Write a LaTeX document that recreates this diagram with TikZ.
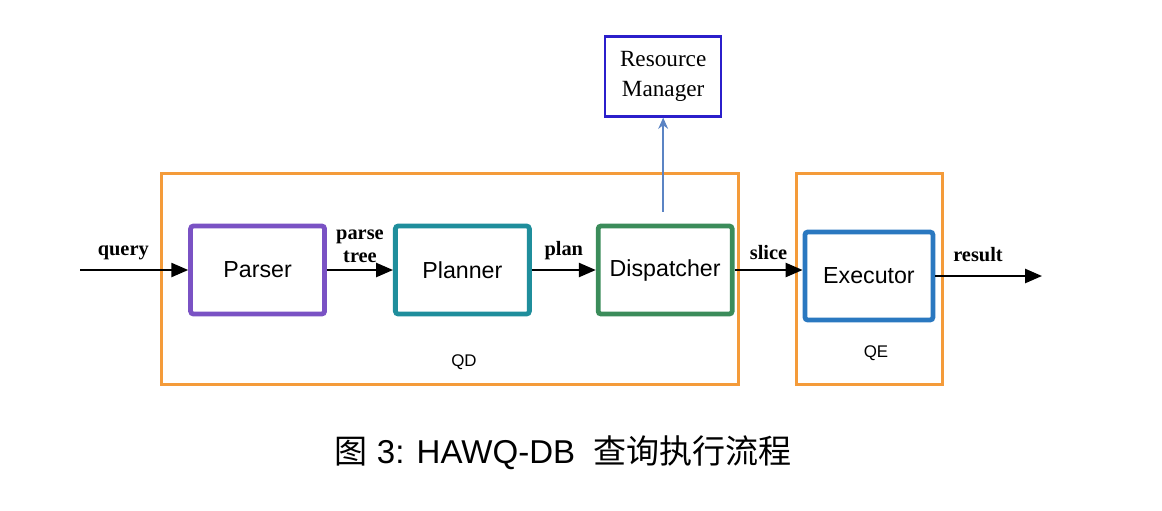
\documentclass[tikz,border=0pt]{standalone}
\usepackage{fontspec}
\setmainfont{Liberation Serif}
\setsansfont{Liberation Sans}
\newfontfamily\cjk{Noto Sans CJK SC}
\usetikzlibrary{positioning,arrows.meta}

\definecolor{qorange}{HTML}{F49B3A}
\definecolor{qpurple}{HTML}{7A52C4}
\definecolor{qteal}{HTML}{1F8E9C}
\definecolor{qgreen}{HTML}{3B8C5A}
\definecolor{qblue}{HTML}{2A78C0}
\definecolor{qnavy}{HTML}{2B1FCB}
\definecolor{qlink}{HTML}{5B84C4}

\tikzset{
  module/.style={rectangle, draw, line width=3.4pt, rounded corners=2pt, fill=white,
    minimum width=3.35cm, minimum height=2.2cm, font=\sffamily\fontsize{16.5}{18}\selectfont},
  group/.style={rectangle, draw=qorange, line width=2.5pt},
  flow/.style={-{Triangle[length=12pt,width=10pt]}, line width=1.5pt},
  edgelabel/.style={font=\bfseries\fontsize{14.5}{16.5}\selectfont, align=center}
}

\begin{document}
\begin{tikzpicture}[node distance=1.7cm]
  \useasboundingbox (0,0) rectangle (29.05,-12.75);
  % the two groups
  \node (qd) [group, minimum width=14.43cm, minimum height=5.28cm] at (11.25,-6.975) {};
  \node (qe) [group, minimum width=3.65cm, minimum height=5.28cm] at (21.74,-6.975) {};
  \node (qdlabel) [font=\sffamily\fontsize{12}{14}\selectfont] at (11.6,-9.05) {QD};
  \node (qelabel) [font=\sffamily\fontsize{12}{14}\selectfont] at (21.9,-8.83) {QE};

  \node (parser) [module, draw=qpurple] at (6.44,-6.75) {Parser};
  \node (planner) [module, draw=qteal, right=1.65cm of parser] {Planner};
  \node (disp) [module, draw=qgreen, right=1.6cm of planner] {Dispatcher};
  \node (exec) [module, draw=qblue, minimum width=3.2cm, right=1.7cm of disp, yshift=-0.15cm] {Executor};
  \node (rm) [rectangle, draw=qnavy, line width=1.8pt, minimum width=2.9cm, minimum height=2.0cm,
    align=center, font=\fontsize{16.5}{21.5}\selectfont, above=2.65cm of disp, xshift=-0.05cm] {Resource\\Manager};

  \coordinate (in) at (2.0,-6.75);
  \coordinate (out) at (26.05,-6.9);
  \coordinate (tap) at ([yshift=0.3cm,xshift=-0.05cm]disp.north);

  \draw [flow] (in) -- node [edgelabel, above=3pt, pos=0.4] {query} (parser);
  \draw [flow] (parser) -- node [edgelabel, above=1pt] {parse\\tree} (planner);
  \draw [flow] (planner) -- node [edgelabel, above=3pt] {plan} (disp);
  \draw [flow] (disp.east) -- node [edgelabel, above=3pt] {slice} (exec.west |- disp.east);
  \draw [flow] (exec) -- node [edgelabel, above=6pt, pos=0.4] {result} (out);
  \draw [-{Stealth[length=8pt,width=7pt]}, qlink, line width=1.2pt] (tap) -- (rm);

  \node (caption) at (14.08,-11.33) {\sffamily\fontsize{23.5}{26}\selectfont{\cjk 图} 3: HAWQ-DB\ \ {\cjk 查询执行流程}};
\end{tikzpicture}
\end{document}
